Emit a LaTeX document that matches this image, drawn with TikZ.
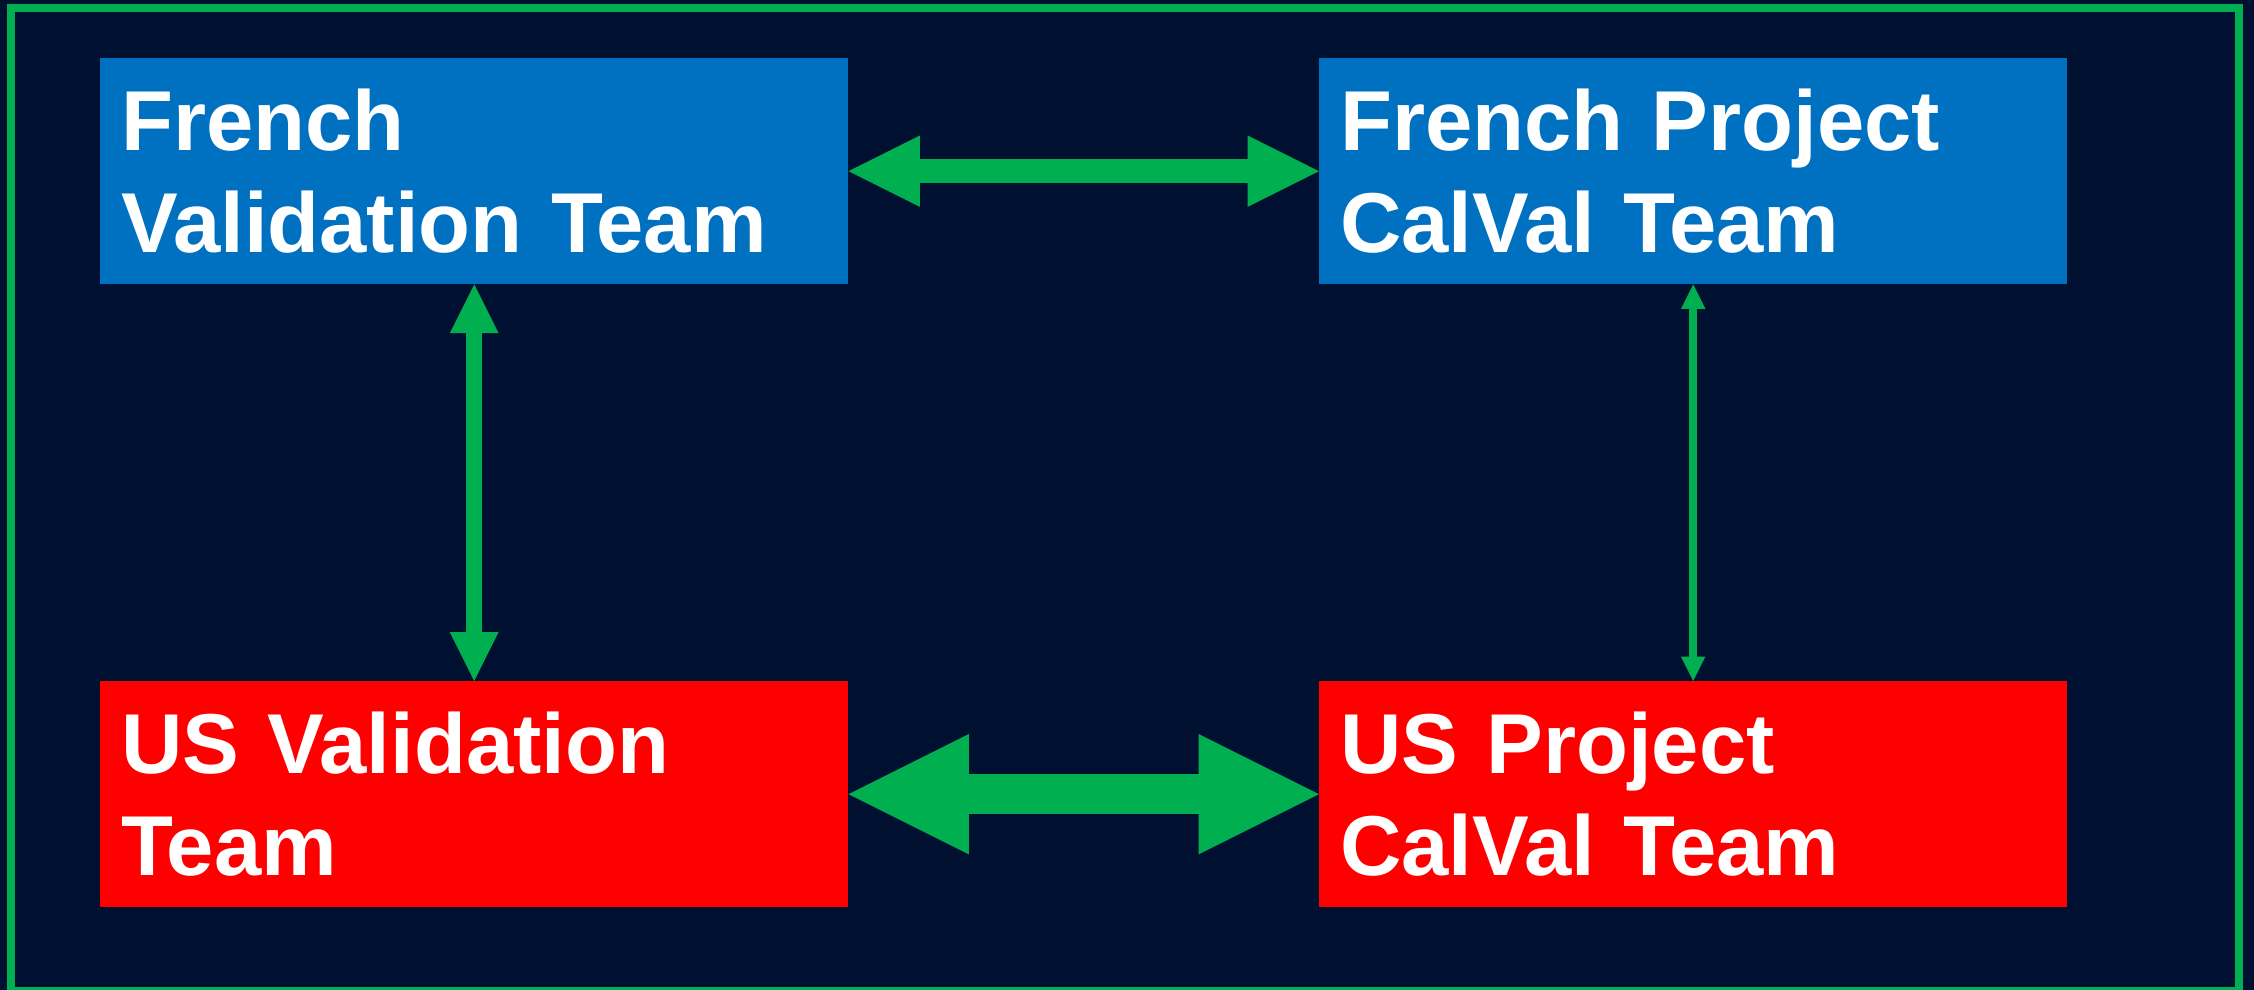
\documentclass[tikz,border=0pt]{standalone}
\usepackage{fontspec}
\setmainfont{Liberation Sans}
\usetikzlibrary{arrows.meta}
\definecolor{bg}{HTML}{001030}
\definecolor{grn}{HTML}{00B050}
\definecolor{blu}{HTML}{0070C0}
\definecolor{rd}{HTML}{FF0000}
\begin{document}
\begin{tikzpicture}[x=1pt,y=1pt,
  team/.style={anchor=north west, minimum width=748pt, minimum height=226pt,
    text width=706pt, inner xsep=21pt, inner ysep=0pt,
    text height=92.7pt, text depth=133.3pt, align=left, text=white,
    font=\fontsize{85}{102}\selectfont\bfseries},
  link/.style={color=grn, line width=#1pt,
    {Triangle[length=#1pt*3.05,width=#1pt*3.05,line width=0pt]}-{Triangle[length=#1pt*3.05,width=#1pt*3.05,line width=0pt]}}]
\fill[bg] (0,0) rectangle (2254,990);
\useasboundingbox (0,0) rectangle (2254,990);
\draw[grn, line width=8pt] (11,-1) rectangle (2239,982);
\node[team, fill=blu] (fv) at (100,932) {French\\Validation Team};
\node[team, fill=blu] (fp) at (1319,932) {French Project\\CalVal Team};
\node[team, fill=rd] (uv) at (100,309) {US Validation\\Team};
\node[team, fill=rd] (up) at (1319,309) {US Project\\CalVal Team};
\draw[link=23.4] (fv.east) -- (fp.west);
\draw[link=39.5] (uv.east) -- (up.west);
\draw[link=16] (fv.south) -- (uv.north);
\draw[link=8] (fp.south) -- (up.north);
\end{tikzpicture}
\end{document}
